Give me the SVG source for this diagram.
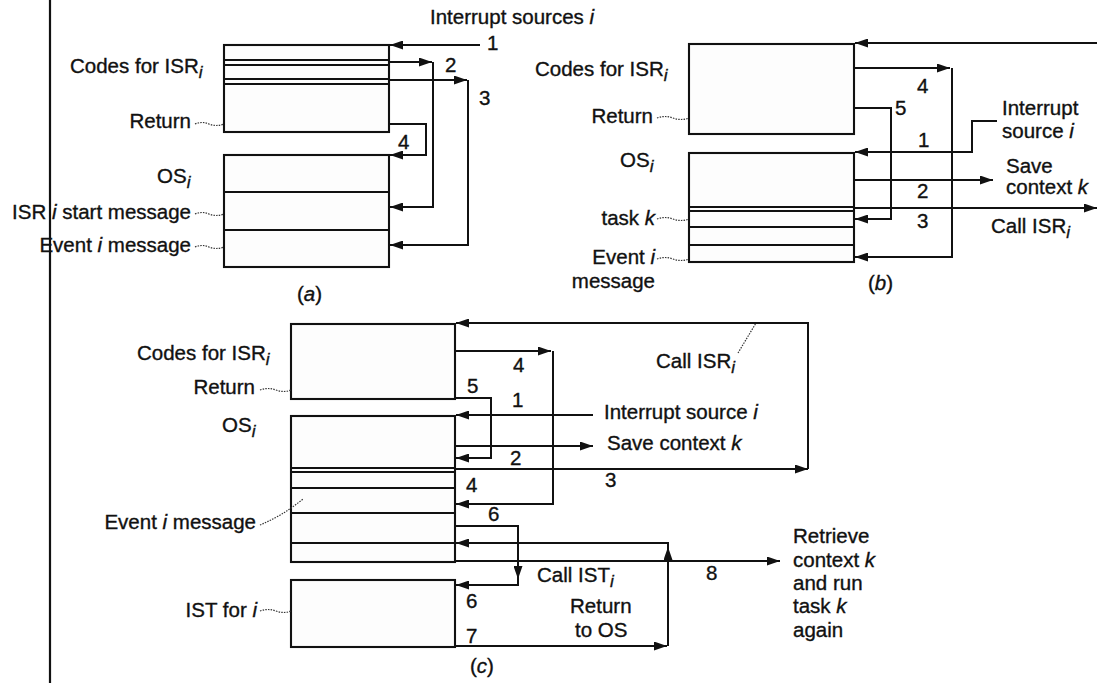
<svg xmlns="http://www.w3.org/2000/svg" width="1097" height="683" viewBox="0 0 1097 683">
<defs>
<marker id="ah" markerUnits="userSpaceOnUse" markerWidth="14" markerHeight="9" refX="13" refY="4.5" orient="auto"><path d="M0,0 L13,4.5 L0,9 z" fill="#111"/></marker>
<style>
text{font-family:"Liberation Sans",Arial,sans-serif;font-size:20.5px;fill:#111;stroke:#111;stroke-width:0.35}
.it{font-style:italic}
.sub{font-style:italic;font-size:17px}
.box{fill:#fdfdfd;stroke:#111;stroke-width:2.1}
.sep{stroke:#111;stroke-width:1.9}
.a{fill:none;stroke:#111;stroke-width:2;marker-end:url(#ah)}
.ld{fill:none;stroke:#333;stroke-width:1.2;stroke-dasharray:1.5 1.2}
.e{text-anchor:end}
</style>
</defs>
<rect width="1097" height="683" fill="#fff"/>
<line x1="50" y1="0" x2="50" y2="683" stroke="#111" stroke-width="2.2"/>

<!-- (a) -->
<g id="a-isr"><rect class="box" x="224" y="45" width="165" height="87"/>
<line class="sep" x1="224" y1="60" x2="389" y2="60"/><line class="sep" x1="224" y1="65" x2="389" y2="65"/>
<line class="sep" x1="224" y1="79" x2="389" y2="79"/><line class="sep" x1="224" y1="84" x2="389" y2="84"/>
<text x="70" y="73">Codes for ISR<tspan class="sub" dy="5">i</tspan></text>
<text class="e" x="191" y="128">Return</text><path class="ld" d="M195,124 q7,-3 14,0 t15,0"/></g>
<g id="a-os"><rect class="box" x="224" y="155" width="165" height="112"/>
<line class="sep" x1="224" y1="192" x2="389" y2="192"/><line class="sep" x1="224" y1="230" x2="389" y2="230"/>
<text x="157" y="183">OS<tspan class="sub" dy="5">i</tspan></text>
<text class="e" x="191" y="219">ISR <tspan class="it">i</tspan> start message</text><path class="ld" d="M195,214 q7,-3 14,0 t15,0"/>
<text class="e" x="191" y="252">Event <tspan class="it">i</tspan>  message</text><path class="ld" d="M195,247 q7,-3 14,0 t15,0"/></g>
<text x="430" y="24">Interrupt sources <tspan class="it">i</tspan></text>
<text x="297" y="301">(<tspan class="it">a</tspan>)</text>
<g id="a-conn">
<path class="a" d="M480,45 H390"/>
<path class="a" d="M389,62 H432"/><path class="a" d="M433,62 V207 H390"/>
<path class="a" d="M389,80 H467"/><path class="a" d="M468,80 V245 H390"/>
<path class="a" d="M389,124 H426 V155 H390"/>
<text x="487" y="50">1</text><text x="445" y="72">2</text><text x="479" y="105">3</text><text x="398" y="149">4</text>
</g>

<!-- (b) -->
<g id="b-isr"><rect class="box" x="689" y="44" width="165" height="90"/>
<text x="535" y="76">Codes for ISR<tspan class="sub" dy="5">i</tspan></text>
<text class="e" x="653" y="123">Return</text><path class="ld" d="M657,118 q8,-3 16,0 t16,0"/></g>
<g id="b-os"><rect class="box" x="689" y="153" width="165" height="109"/>
<line class="sep" x1="689" y1="207" x2="854" y2="207"/><line class="sep" x1="689" y1="211" x2="854" y2="211"/>
<line class="sep" x1="689" y1="227" x2="854" y2="227"/><line class="sep" x1="689" y1="245" x2="854" y2="245"/>
<text x="620" y="167">OS<tspan class="sub" dy="5">i</tspan></text>
<text class="e" x="655" y="225">task <tspan class="it">k</tspan></text><path class="ld" d="M657,219 q8,-3 16,0 t16,0"/>
<text class="e" x="655" y="264">Event <tspan class="it">i</tspan></text><text class="e" x="655" y="288">message</text><path class="ld" d="M657,259 q8,-3 16,0 t16,0"/></g>
<text x="868" y="290">(<tspan class="it">b</tspan>)</text>
<g id="b-conn">
<path class="a" d="M1097,43 H855"/>
<path class="a" d="M854,68 H950"/><path class="a" d="M952,68 V257 H855"/>
<path class="a" d="M854,108 H891 V219 H855"/>
<path class="a" d="M997,121 H972 V152 H855"/>
<path class="a" d="M854,180 H993"/>
<path class="a" d="M854,208 H1097"/>
<text x="917" y="93">4</text><text x="895" y="115">5</text><text x="918" y="147">1</text><text x="917" y="198">2</text><text x="917" y="228">3</text>
<text x="1002" y="115">Interrupt</text><text x="1002" y="138">source <tspan class="it">i</tspan></text>
<text x="1006" y="173">Save</text><text x="1006" y="194">context <tspan class="it">k</tspan></text>
<text x="991" y="233">Call ISR<tspan class="sub" dy="5">i</tspan></text>
</g>

<!-- (c) -->
<g id="c-isr"><rect class="box" x="291" y="324" width="164" height="75"/>
<text x="137" y="360">Codes for ISR<tspan class="sub" dy="5">i</tspan></text>
<text class="e" x="255" y="394">Return</text><path class="ld" d="M260,390 q8,-3 16,0 t15,0"/></g>
<g id="c-os"><rect class="box" x="291" y="416" width="164" height="146"/>
<line class="sep" x1="291" y1="468" x2="455" y2="468"/><line class="sep" x1="291" y1="472" x2="455" y2="472"/>
<line class="sep" x1="291" y1="488" x2="455" y2="488"/><line class="sep" x1="291" y1="513" x2="455" y2="513"/>
<line class="sep" x1="291" y1="543" x2="455" y2="543"/>
<text x="222" y="432">OS<tspan class="sub" dy="5">i</tspan></text>
<text class="e" x="256" y="529">Event <tspan class="it">i</tspan>  message</text><path class="ld" d="M260,525 Q282,516 303,499"/></g>
<g id="c-ist"><rect class="box" x="291" y="580" width="164" height="67"/>
<text class="e" x="257" y="617">IST for <tspan class="it">i</tspan></text><path class="ld" d="M260,611 q8,-3 16,0 t15,0"/></g>
<text x="470" y="673">(<tspan class="it">c</tspan>)</text>
<g id="c-conn">
<path class="a" d="M455,469 H808"/><path class="a" d="M808,469 V323 H456"/>
<path class="ld" d="M738,353 L756,323"/>
<path class="a" d="M455,351 H551"/><path class="a" d="M553,351 V504 H456"/>
<path class="a" d="M455,398 H491 V458 H456"/>
<path class="a" d="M593,415 H456"/>
<path class="a" d="M455,446 H593"/>
<path class="a" d="M455,526 H518 V579"/><path class="a" d="M518,578 V585 H456"/>
<path class="a" d="M455,646 H667"/><path class="a" d="M668,646 V547"/><path class="a" d="M668,547 V543 H456"/>
<path class="a" d="M455,561 H780"/>
<text x="605" y="487">3</text><text x="656" y="368">Call ISR<tspan class="sub" dy="5">i</tspan></text>
<text x="513" y="372">4</text><text x="466" y="492">4</text>
<text x="467" y="393">5</text>
<text x="512" y="407">1</text><text x="604" y="419">Interrupt source <tspan class="it">i</tspan></text>
<text x="510" y="465">2</text><text x="607" y="450">Save context <tspan class="it">k</tspan></text>
<text x="488" y="521">6</text><text x="466" y="608">6</text>
<text x="537" y="582">Call IST<tspan class="sub" dy="5">i</tspan></text>
<text x="466" y="643">7</text><text x="706" y="580">8</text>
<text x="570" y="613">Return</text><text x="575" y="637">to OS</text>
<text x="793" y="543">Retrieve</text><text x="793" y="567">context <tspan class="it">k</tspan></text><text x="793" y="590">and run</text><text x="793" y="613">task <tspan class="it">k</tspan></text><text x="793" y="637">again</text>
</g>
</svg>
